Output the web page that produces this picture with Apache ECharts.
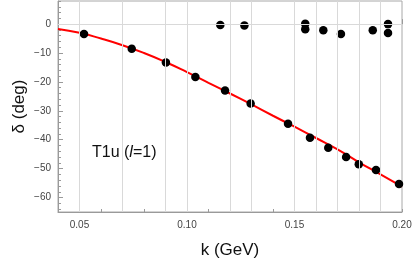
<!DOCTYPE html>
<html>
<head>
<meta charset="utf-8">
<script src="https://cdn.jsdelivr.net/npm/echarts@6/dist/echarts.min.js"></script>
<style>html,body{margin:0;padding:0;background:#fff}#c{width:415px;height:264px}</style>
</head>
<body>
<div id="c"></div>
<script>
// lower branch data (k in GeV, delta in deg)
var lowerK = [0.0521, 0.0743, 0.0902, 0.1039, 0.1177, 0.1296, 0.1470, 0.1572, 0.1657, 0.1740, 0.1799, 0.1879, 0.1986];
var lowerD = [-3.4, -8.5, -13.3, -18.3, -23.0, -27.5, -34.5, -39.3, -42.8, -46.0, -48.5, -50.5, -55.3];
// upper branch data
var upperK = [0.1155, 0.1267, 0.1550, 0.1550, 0.1634, 0.1716, 0.1864, 0.1935, 0.1935];
var upperD = [-0.3, -0.5, 0.1, -1.8, -2.1, -3.4, -2.1, 0.0, -3.1];
// fitted curve samples
var fitK = [0.040, 0.050, 0.060, 0.070, 0.080, 0.090, 0.100, 0.110, 0.120, 0.130, 0.140, 0.150, 0.160, 0.170, 0.180, 0.190, 0.200];
var fitD = [-1.7, -3.0, -5.0, -7.3, -10.0, -13.1, -16.6, -20.3, -24.0, -27.8, -31.7, -35.5, -39.4, -43.3, -47.8, -52.0, -56.2];
// vertical grid line positions
var gridK = [0.0515, 0.0732, 0.0894, 0.1037, 0.1157, 0.1267, 0.1464, 0.1550, 0.1634, 0.1713, 0.1792, 0.1862, 0.1934];
// tick labels
var xMajor = [0.05, 0.10, 0.15, 0.20];
var yMajor = [-60, -50, -40, -30, -20, -10, 0];
var yMinor = [];
for (var v = -64; v <= 8; v += 2) yMinor.push(v);

function pairs(a, b) { return a.map(function (x, i) { return [x, b[i]]; }); }

var axisCol = '#9a9a9a';
var labelCol = '#444';
var chart = echarts.init(document.getElementById('c'));
chart.setOption({
  animation: false,
  grid: { left: 58, right: 13, top: 1, bottom: 50, show: true, borderColor: '#a8a8a8', borderWidth: 1 },
  xAxis: [
    {
      type: 'value', min: 0.04, max: 0.20, interval: 0.01,
      name: 'k (GeV)', nameLocation: 'middle', nameGap: 30,
      nameTextStyle: { fontFamily: 'Liberation Sans', fontSize: 17, color: '#111' },
      axisLine: { show: true, onZero: false, lineStyle: { color: axisCol } },
      axisTick: { show: true, inside: true, length: 3, lineStyle: { color: axisCol } },
      axisLabel: { show: false },
      splitLine: { show: false }
    },
    {
      type: 'value', min: 0.04, max: 0.20, position: 'bottom',
      axisLine: { show: false },
      axisTick: { show: true, inside: true, length: 5, customValues: xMajor, lineStyle: { color: axisCol } },
      axisLabel: { show: true, customValues: xMajor, margin: 8, color: labelCol, fontSize: 10, fontFamily: 'Liberation Sans',
        formatter: function (v) { return v.toFixed(2); } },
      splitLine: { show: false }
    }
  ],
  yAxis: [
    {
      type: 'value', min: -65, max: 8,
      name: 'δ (deg)', nameLocation: 'middle', nameGap: 30, nameRotate: 90,
      nameTextStyle: { fontFamily: 'Liberation Sans', fontSize: 17, color: '#111' },
      axisLine: { show: true, onZero: false, lineStyle: { color: axisCol } },
      axisTick: { show: true, inside: true, length: 3, customValues: yMinor, lineStyle: { color: axisCol } },
      axisLabel: { show: false },
      splitLine: { show: false }
    },
    {
      type: 'value', min: -65, max: 8, position: 'left',
      axisLine: { show: false },
      axisTick: { show: true, inside: true, length: 5, customValues: yMajor, lineStyle: { color: axisCol } },
      axisLabel: { show: true, customValues: yMajor, margin: 7, color: labelCol, fontSize: 10, fontFamily: 'Liberation Sans',
        formatter: function (v) { return v < 0 ? '\u2212' + Math.abs(v) : String(v); } },
      splitLine: { show: false }
    }
  ],
  graphic: [
    { type: 'text', left: 92, top: 145,
      style: { rich: { a: { fontFamily: 'Liberation Sans', fontSize: 16, fill: '#111' },
                       i: { fontFamily: 'Liberation Sans', fontStyle: 'italic', fontSize: 16, fill: '#111' } },
               text: '{a|T1u (}{i|l}{a|=1)}' } }
  ],
  series: [
    {
      type: 'line', data: [], silent: true,
      markLine: {
        silent: true, symbol: ['none', 'none'], label: { show: false },
        lineStyle: { color: '#d9d9d9', width: 1, type: 'solid' },
        data: gridK.map(function (k) { return { xAxis: k }; }).concat([{ yAxis: 0 }])
      }
    },
    {
      type: 'line', data: pairs(fitK, fitD), smooth: true, showSymbol: false, silent: true,
      lineStyle: { color: '#ff0000', width: 2 }, z: 3
    },
    {
      type: 'scatter', data: pairs(lowerK, lowerD), symbolSize: 8.5,
      itemStyle: { color: '#000', opacity: 1 }, z: 4
    },
    {
      type: 'scatter', data: pairs(upperK, upperD), symbolSize: 8.5,
      itemStyle: { color: '#000', opacity: 1 }, z: 4
    }
  ]
});
</script>
</body>
</html>
